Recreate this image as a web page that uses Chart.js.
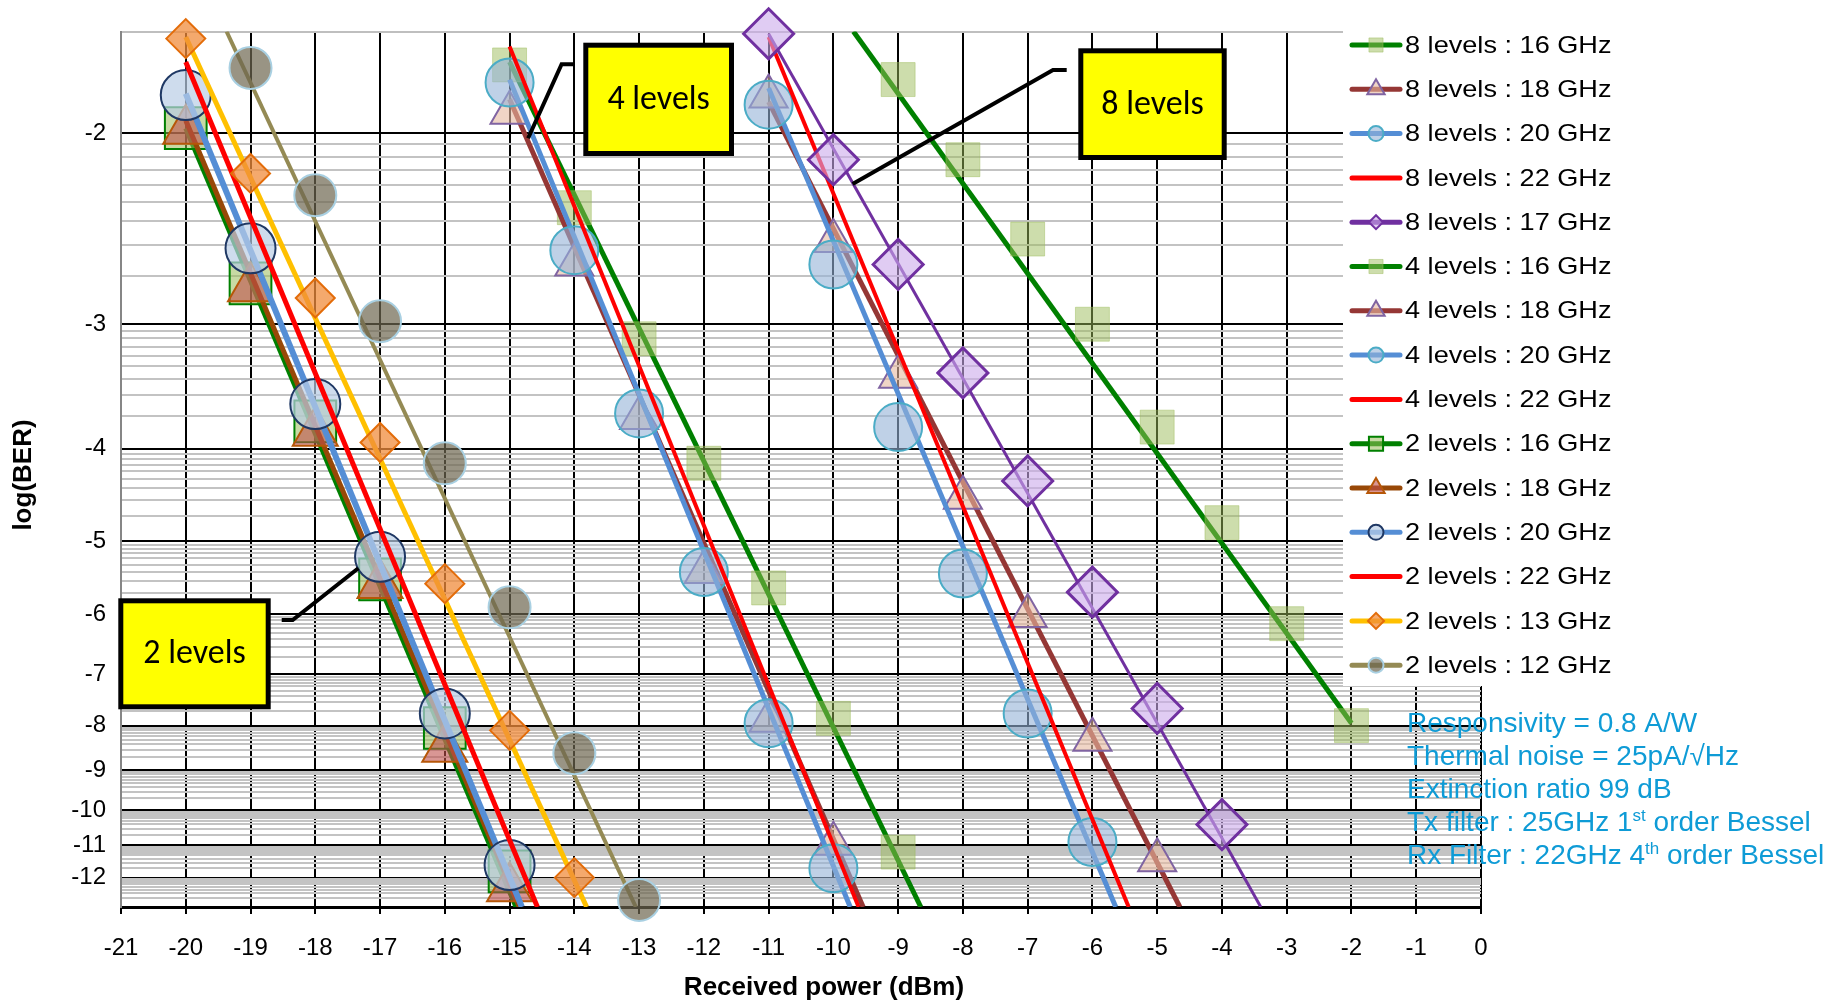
<!DOCTYPE html>
<html>
<head>
<meta charset="utf-8">
<title>BER vs received power</title>
<script src="https://cdn.jsdelivr.net/npm/chart.js@4.4.1/dist/chart.umd.min.js"></script>
<style>
  html, body { margin: 0; padding: 0; background: #fff; }
</style>
</head>
<body>
<canvas id="berChart" width="1839" height="1003"></canvas>
<script>
// ---- axis ticks ----
const xMin = -21, xMax = 0;
const yDecades = [-2, -3, -4, -5, -6, -7, -8, -9, -10, -11, -12, -13];
const yMinorSteps = [9, 8, 7, 6, 5, 4, 3, 2];

// ---- measured points (x = dBm, y = log10 BER) ----
// 8 levels
const x8L16 = [-9, -8, -7, -6, -5, -4, -3, -2];
const y8L16 = [-1.80, -2.11, -2.49, -3.0, -3.8, -4.78, -6.15, -8.0];
const x8L18 = [-11, -10, -9, -8, -7, -6, -5];
const y8L18 = [-1.86, -2.5, -3.38, -4.5, -6.03, -8.3, -11.45];
const x8L20 = [-11, -10, -9, -8, -7, -6];
const y8L20 = [-1.89, -2.63, -3.8, -5.42, -7.75, -10.9];
const x8L17 = [-11, -10, -9, -8, -7, -6, -5, -4];
const y8L17 = [-1.65, -2.11, -2.63, -3.35, -4.32, -5.68, -7.65, -10.4];
// 4 levels
const x4L = [-15, -14, -13, -12, -11, -10, -9];
const y4L16 = [-1.75, -2.33, -3.1, -4.14, -5.62, -7.85, -11.2];
const y4L18 = [-1.92, -2.63, -3.72, -5.4, -7.9, -10.95];
const y4L20 = [-1.81, -2.55, -3.68, -5.4, -7.95, -11.7];
// 2 levels
const x2L = [-20, -19, -18, -17, -16, -15, -14];
const y2L16 = [-1.98, -2.74, -3.75, -5.5, -8.05, -11.8];
const y2L18 = [-1.99, -2.77, -3.85, -5.58, -8.5, -12.35];
const y2L20 = [-1.855, -2.54, -3.6, -5.2, -7.75, -11.6];
const y2L13 = [-1.665, -2.17, -2.83, -3.94, -5.56, -8.1, -12.0];
const x2L12 = [-19, -18, -17, -16, -15, -14, -13];
const y2L12 = [-1.76, -2.27, -2.98, -4.14, -5.9, -8.6, -12.75];

// ---- theory curves (end points, x = dBm, y = log10 BER) ----
const fit8L16X = [-9.69, -2],    fit8L16Y = [-1.643, -7.95];
const fit8L18X = [-11, -4.65],   fit8L18Y = [-1.88, -13];
const fit8L20X = [-11, -5.64],   fit8L20Y = [-1.83, -13];
const fit8L22X = [-11, -5.44],   fit8L22Y = [-1.66, -13];
const fit8L17X = [-11, -3.40],   fit8L17Y = [-1.65, -13];
const fit4L16X = [-15, -8.65],   fit4L16Y = [-1.74, -13];
const fit4L18X = [-15, -9.54],   fit4L18Y = [-1.87, -13];
const fit4L20X = [-15, -9.74],   fit4L20Y = [-1.80, -13];
const fit4L22X = [-15, -9.61],   fit4L22Y = [-1.69, -13];
const fit2L16X = [-20, -14.9],   fit2L16Y = [-1.98, -13];
const fit2L18X = [-20, -14.85],  fit2L18Y = [-1.95, -13];
const fit2L20X = [-20, -14.81],  fit2L20Y = [-1.85, -13];
const fit2L22X = [-20, -14.57],  fit2L22Y = [-1.74, -13];
const fit2L13X = [-20, -13.81],  fit2L13Y = [-1.66, -13];
const fit2L12X = [-19.37, -13.05], fit2L12Y = [-1.643, -13];

const FONT = '"Liberation Sans", Arial, sans-serif';

// BER axis: position = log10(Q), with BER = 0.5 erfc(Q / sqrt 2)
function normInv(p) {
  const a = [-3.969683028665376e+01, 2.209460984245205e+02, -2.759285104469687e+02, 1.383577518672690e+02, -3.066479806614716e+01, 2.506628277459239e+00];
  const b = [-5.447609879822406e+01, 1.615858368580409e+02, -1.556989798598866e+02, 6.680131188771972e+01, -1.328068155288572e+01];
  const c = [-7.784894002430293e-03, -3.223964580411365e-01, -2.400758277161838e+00, -2.549732539343734e+00, 4.374664141464968e+00, 2.938163982698783e+00];
  const d = [7.784695709041462e-03, 3.224671290700398e-01, 2.445134137142996e+00, 3.754408661907416e+00];
  if (p < 0.02425) {
    const q = Math.sqrt(-2 * Math.log(p));
    return (((((c[0]*q + c[1])*q + c[2])*q + c[3])*q + c[4])*q + c[5]) /
           ((((d[0]*q + d[1])*q + d[2])*q + d[3])*q + 1);
  }
  const q = p - 0.5, r = q * q;
  return (((((a[0]*r + a[1])*r + a[2])*r + a[3])*r + a[4])*r + a[5]) * q /
         (((((b[0]*r + b[1])*r + b[2])*r + b[3])*r + b[4])*r + 1);
}
function berPos(logBer) {
  return Math.log10(-normInv(Math.pow(10, logBer)));
}
const yTop = Math.log10(2);
const yBottom = berPos(-13);

// y gridlines: decades (labelled) + 2..9 minor lines
const yTicks = [{ v: yTop, label: '', color: '#BFBFBF' }];
yDecades.forEach((n, i) => {
  if (i > 0) {
    yMinorSteps.forEach(k => yTicks.push({ v: berPos(Math.log10(k) + n), label: '', color: '#C3C3C3' }));
  }
  if (n > -13) yTicks.push({ v: berPos(n), label: String(n), color: '#000' });
});

const series = [
  { name: '8 levels : 16 GHz', fx: fit8L16X, fy: fit8L16Y, mx: x8L16, my: y8L16, line: '#008000', lw: 5,
    style: 'rect', r: 24, fill: 'rgba(155,187,89,0.5)', edge: 'rgba(155,187,89,0.45)', bw: 1, lr: 10 },
  { name: '8 levels : 18 GHz', fx: fit8L18X, fy: fit8L18Y, mx: x8L18, my: y8L18, line: '#953735', lw: 5,
    style: 'triangle', r: 22, fill: 'rgba(230,185,160,0.6)', edge: '#8064A2', bw: 2, lr: 10 },
  { name: '8 levels : 20 GHz', fx: fit8L20X, fy: fit8L20Y, mx: x8L20, my: y8L20, line: '#558ED5', lw: 5,
    style: 'circle', r: 24, fill: 'rgba(149,179,215,0.6)', edge: '#4BACC6', bw: 2, lr: 7.5 },
  { name: '8 levels : 22 GHz', fx: fit8L22X, fy: fit8L22Y, line: '#FF0000', lw: 4 },
  { name: '8 levels : 17 GHz', fx: fit8L17X, fy: fit8L17Y, mx: x8L17, my: y8L17, line: '#7030A0', lw: 3,
    style: 'rectRot', r: 25, fill: 'rgba(204,170,235,0.6)', edge: '#7030A0', bw: 3, lr: 7 },
  { name: '4 levels : 16 GHz', fx: fit4L16X, fy: fit4L16Y, mx: x4L, my: y4L16, line: '#008000', lw: 5,
    style: 'rect', r: 24, fill: 'rgba(155,187,89,0.5)', edge: 'rgba(155,187,89,0.45)', bw: 1, lr: 10 },
  { name: '4 levels : 18 GHz', fx: fit4L18X, fy: fit4L18Y, mx: x4L, my: y4L18, line: '#953735', lw: 5,
    style: 'triangle', r: 22, fill: 'rgba(230,185,160,0.6)', edge: '#8064A2', bw: 2, lr: 10 },
  { name: '4 levels : 20 GHz', fx: fit4L20X, fy: fit4L20Y, mx: x4L, my: y4L20, line: '#558ED5', lw: 5,
    style: 'circle', r: 24, fill: 'rgba(149,179,215,0.6)', edge: '#4BACC6', bw: 2, lr: 7.5 },
  { name: '4 levels : 22 GHz', fx: fit4L22X, fy: fit4L22Y, line: '#FF0000', lw: 4 },
  { name: '2 levels : 16 GHz', fx: fit2L16X, fy: fit2L16Y, mx: x2L, my: y2L16, line: '#008000', lw: 5,
    style: 'rect', r: 29.5, fill: 'rgba(155,187,89,0.55)', edge: '#008000', bw: 2, lr: 10 },
  { name: '2 levels : 18 GHz', fx: fit2L18X, fy: fit2L18Y, mx: x2L, my: y2L18, line: '#984807', lw: 5,
    style: 'triangle', r: 26, fill: 'rgba(192,80,77,0.6)', edge: '#B65708', bw: 2, lr: 10 },
  { name: '2 levels : 20 GHz', fx: fit2L20X, fy: fit2L20Y, mx: x2L, my: y2L20, line: '#558ED5', lw: 6,
    style: 'circle', r: 25, fill: 'rgba(185,205,229,0.7)', edge: '#1F3864', bw: 2, lr: 7.5 },
  { name: '2 levels : 22 GHz', fx: fit2L22X, fy: fit2L22Y, line: '#FF0000', lw: 5 },
  { name: '2 levels : 13 GHz', fx: fit2L13X, fy: fit2L13Y, mx: x2L, my: y2L13, line: '#FFC000', lw: 5,
    style: 'rectRot', r: 19.5, fill: 'rgba(240,140,60,0.75)', edge: '#E36C09', bw: 2, lr: 8 },
  { name: '2 levels : 12 GHz', fx: fit2L12X, fy: fit2L12Y, mx: x2L12, my: y2L12, line: '#948A54', lw: 4,
    style: 'circle', r: 21, fill: 'rgba(110,102,80,0.7)', edge: '#A9D0E2', bw: 2, lr: 7.5 }
];

function pts(xs, ys) {
  return ys.map((v, i) => ({ x: xs[i], y: berPos(v) }));
}

const datasets = [];
series.forEach((s, k) => {
  const base = (series.length - 1 - k) * 2;
  datasets.push({
    label: s.name, data: pts(s.fx, s.fy), showLine: true, fill: false,
    borderColor: s.line, borderWidth: s.lw, pointRadius: 0, clip: 0, order: base + 1
  });
  if (s.my) {
    datasets.push({
      label: s.name + ' (sim)', data: pts(s.mx, s.my), showLine: false,
      pointStyle: s.style, pointRadius: s.r, backgroundColor: s.fill,
      borderColor: s.edge, borderWidth: s.bw, clip: false, order: base
    });
  }
});

// small marker helper for the legend (same geometry as Chart.js point styles)
function marker(ctx, style, x, y, r, fill, edge, bw) {
  ctx.beginPath();
  if (style === 'circle') {
    ctx.arc(x, y, r, 0, Math.PI * 2);
  } else if (style === 'rect') {
    const h = r * Math.SQRT1_2;
    ctx.rect(x - h, y - h, 2 * h, 2 * h);
  } else if (style === 'rectRot') {
    ctx.moveTo(x - r, y); ctx.lineTo(x, y - r); ctx.lineTo(x + r, y); ctx.lineTo(x, y + r); ctx.closePath();
  } else if (style === 'triangle') {
    const s = r * Math.sin(Math.PI / 3);
    ctx.moveTo(x, y - r); ctx.lineTo(x + s, y + r / 2); ctx.lineTo(x - s, y + r / 2); ctx.closePath();
  }
  ctx.fillStyle = fill; ctx.fill();
  if (bw) { ctx.lineWidth = bw; ctx.strokeStyle = edge; ctx.stroke(); }
}

function callout(ctx, box, text, conn) {
  ctx.save();
  ctx.beginPath();
  ctx.moveTo(conn[0][0], conn[0][1]);
  conn.slice(1).forEach(p => ctx.lineTo(p[0], p[1]));
  ctx.lineWidth = 4; ctx.strokeStyle = '#000'; ctx.lineJoin = 'miter';
  ctx.stroke();
  ctx.fillStyle = '#FFFF00';
  ctx.fillRect(box[0], box[1], box[2], box[3]);
  ctx.lineWidth = 5; ctx.strokeStyle = '#000';
  ctx.strokeRect(box[0], box[1], box[2], box[3]);
  ctx.fillStyle = '#000';
  ctx.font = '34px Carlito, Calibri, Lato, sans-serif';
  ctx.textAlign = 'center'; ctx.textBaseline = 'middle';
  ctx.fillText(text, box[0] + box[2] / 2, box[1] + box[3] / 2 + 1);
  ctx.restore();
}

const overlays = {
  id: 'overlays',
  afterDraw(chart) {
    const ctx = chart.ctx;
    ctx.save();

    // axis titles
    ctx.fillStyle = '#000';
    ctx.font = 'bold 26px ' + FONT;
    ctx.textAlign = 'center'; ctx.textBaseline = 'middle';
    ctx.fillText('Received power (dBm)', 824, 988);
    ctx.save();
    ctx.translate(24, 475); ctx.rotate(-Math.PI / 2);
    ctx.fillText('log(BER)', 0, 0);
    ctx.restore();

    // legend
    ctx.fillStyle = '#fff';
    ctx.fillRect(1343, 23, 300, 663);
    series.forEach((s, i) => {
      const cy = 45 + i * 44.3;
      ctx.beginPath();
      ctx.moveTo(1352, cy); ctx.lineTo(1400, cy);
      ctx.lineWidth = 5; ctx.lineCap = 'round'; ctx.strokeStyle = s.line;
      ctx.stroke();
      ctx.lineCap = 'butt';
      if (s.style) marker(ctx, s.style, 1376, cy, s.lr, s.fill, s.edge, Math.min(s.bw, 2));
      ctx.save();
      ctx.translate(1405, cy + 1); ctx.scale(1.13, 1);
      ctx.fillStyle = '#000'; ctx.font = '24px ' + FONT;
      ctx.textAlign = 'left'; ctx.textBaseline = 'middle';
      ctx.fillText(s.name, 0, 0);
      ctx.restore();
    });

    // simulation parameters
    ctx.fillStyle = '#0E9BD6';
    ctx.textAlign = 'left'; ctx.textBaseline = 'alphabetic';
    const big = '28px ' + FONT, small = '17px ' + FONT;
    const noteX = 1407;
    const rows = [
      [['Responsivity = 0.8 A/W', 0]],
      [['Thermal noise = 25pA/\u221AHz', 0]],
      [['Extinction ratio 99 dB', 0]],
      [['Tx filter : 25GHz 1', 0], ['st', 1], [' order Bessel', 0]],
      [['Rx Filter : 22GHz 4', 0], ['th', 1], [' order Bessel', 0]]
    ];
    rows.forEach((parts, i) => {
      let x = noteX;
      const base = 732 + i * 33.1;
      parts.forEach(([t, sup]) => {
        ctx.font = sup ? small : big;
        ctx.fillText(t, x, sup ? base - 10 : base);
        x += ctx.measureText(t).width;
      });
    });

    // callouts
    callout(ctx, [585.8, 45.2, 145.7, 108.3], '4 levels', [[573.7, 64.3], [561.6, 64.3], [528.1, 138.3]]);
    callout(ctx, [1080.8, 50.8, 143.4, 106.7], '8 levels', [[1066.7, 70], [1053, 70], [852.6, 184]]);
    callout(ctx, [120.8, 600.8, 147.4, 106], '2 levels', [[281.7, 620], [292.7, 620], [358.3, 568.3]]);

    ctx.restore();
  }
};

new Chart(document.getElementById('berChart').getContext('2d'), {
  type: 'scatter',
  data: { datasets: datasets },
  options: {
    responsive: false,
    animation: false,
    events: [],
    layout: { padding: { left: 0, right: 358, top: 19, bottom: 0 } },
    plugins: { legend: { display: false }, tooltip: { enabled: false } },
    scales: {
      x: {
        type: 'linear', min: xMin, max: xMax,
        afterFit: function(scale) {
          scale.height = 96;
          scale.paddingLeft = 0; scale.paddingRight = 0;
        },
        ticks: {
          stepSize: 1, autoSkip: false, maxRotation: 0, padding: 20, color: '#000',
          font: { family: FONT, size: 24 },
          callback: function(v) { return String(v); }
        },
        grid: { color: '#000', lineWidth: 2, tickLength: 7, tickColor: '#000', tickWidth: 2 },
        border: { color: '#000', width: 3 }
      },
      y: {
        type: 'linear', reverse: true, min: yTop, max: yBottom,
        afterFit: function(scale) {
          scale.width = 121;
          scale.paddingTop = 0; scale.paddingBottom = 0;
        },
        afterBuildTicks: function(scale) { scale.ticks = yTicks.map(t => ({ value: t.v })); },
        ticks: {
          autoSkip: false, padding: 15, color: '#000',
          font: { family: FONT, size: 24 },
          callback: function(v, i) { return yTicks[i] ? yTicks[i].label : ''; }
        },
        grid: {
          drawTicks: false, lineWidth: 2,
          color: function(c) { return yTicks[c.index] ? yTicks[c.index].color : '#C3C3C3'; }
        },
        border: { color: '#868686', width: 2 }
      }
    }
  },
  plugins: [overlays]
});
</script>
</body>
</html>
